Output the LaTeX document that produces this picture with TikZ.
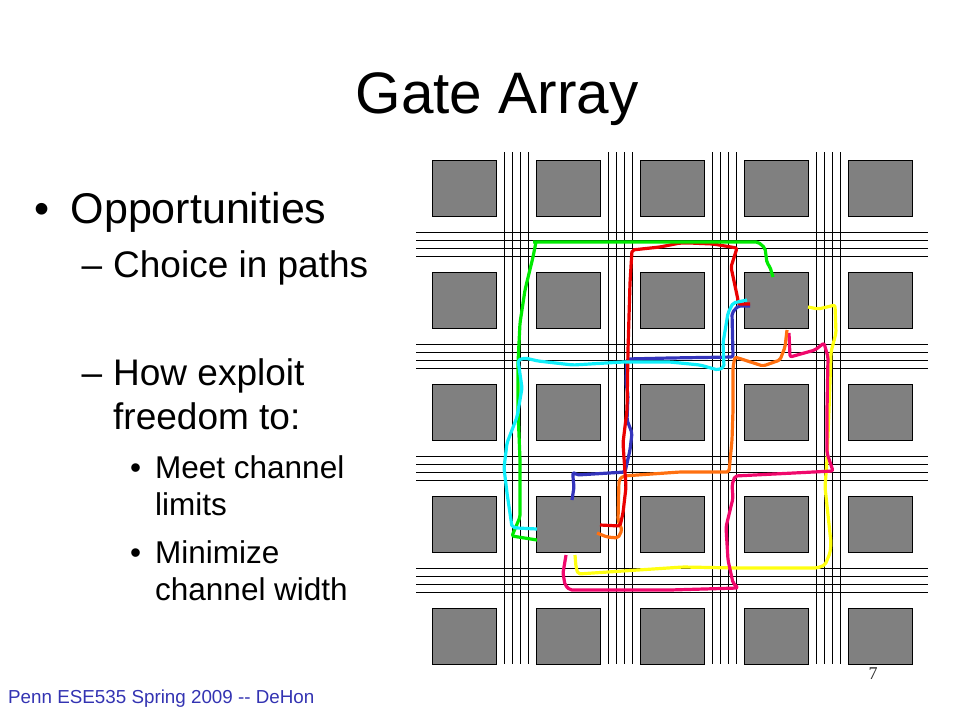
\documentclass[tikz,border=0pt]{standalone}
\usepackage{fontspec}
\setmainfont{Liberation Sans}
\newfontfamily\pagefont{Liberation Serif}
\definecolor{wiregreen}{HTML}{00EA00}
\definecolor{wirered}{HTML}{EA0000}
\definecolor{wirecyan}{HTML}{10EEFA}
\definecolor{wireblue}{HTML}{3434BC}
\definecolor{wireorange}{HTML}{FF7010}
\definecolor{wireyellow}{HTML}{FFFF10}
\definecolor{wirepink}{HTML}{F0086C}
\definecolor{footblue}{HTML}{3333B2}
\tikzset{
	txt/.style={inner sep=0pt, anchor=base west},
	cell/.style={draw, line width=1pt, fill={rgb,255:red,128;green,128;blue,128}, inner sep=0pt, minimum width=64pt, minimum height=56pt},
	track/.style={line width=1pt},
	wire/.style={line width=3.2pt, line join=round, rounded corners=2pt}
}
\begin{document}
\begin{tikzpicture}[x=1pt, y=-1pt]
	\useasboundingbox (0,0) rectangle (960,720);
	\node (title) [inner sep=0pt, anchor=base] at (497,113) {\fontsize{58.5}{60}\selectfont Gate Array};
	\node (b1) [txt] at (34,223) {\fontsize{43}{46}\selectfont •};
	\node (t1) [txt] at (70.5,223) {\fontsize{43}{46}\selectfont Opportunities};
	\node (d1) [txt] at (81.5,277.5) {\fontsize{37}{40}\selectfont –};
	\node (t2) [txt] at (113,277.5) {\fontsize{37}{40}\selectfont Choice in paths};
	\node (d2) [txt] at (81.5,385.5) {\fontsize{37}{40}\selectfont –};
	\node (t3) [txt] at (113,385.5) {\fontsize{37}{40}\selectfont How exploit};
	\node (t4) [txt] at (113,429.5) {\fontsize{37}{40}\selectfont freedom to:};
	\node (b2) [txt] at (130,478) {\fontsize{31.5}{34}\selectfont •};
	\node (t5) [txt] at (155,478) {\fontsize{31.5}{34}\selectfont Meet channel};
	\node (t6) [txt] at (155,515.5) {\fontsize{31.5}{34}\selectfont limits};
	\node (b3) [txt] at (130,563) {\fontsize{31.5}{34}\selectfont •};
	\node (t7) [txt] at (155,563) {\fontsize{31.5}{34}\selectfont Minimize};
	\node (t8) [txt] at (155,600.5) {\fontsize{31.5}{34}\selectfont channel width};
	\node (foot) [txt, text=footblue] at (8,703) {\fontsize{18.8}{21}\selectfont Penn ESE535 Spring 2009 {-}{-} DeHon};
	\node (page) [inner sep=0pt, anchor=base, text={rgb,255:red,40;green,40;blue,40}] at (873,679) {\pagefont\fontsize{18}{20}\selectfont 7};

	% routing tracks
	\foreach \i in {0,...,3} {
		\foreach \j in {0,...,3} {
			\draw[track] ({504.5+104*\i+8*\j},152) -- ({504.5+104*\i+8*\j},664);
			\draw[track] (416,{232.5+112*\i+8*\j}) -- (928,{232.5+112*\i+8*\j});
		}
	}
	% logic blocks
	\foreach \i in {0,...,4} {
		\foreach \j in {0,...,4} {
			\node (c\i\j) [cell] at ({464.5+104*\i},{188.5+112*\j}) {};
		}
	}

	\draw[wire, wireyellow] (808,307) -- (818,309) -- (827,307) -- (835,305) -- (836,333) -- (831,352) -- (829,410) -- (827,460) -- (825,487) -- (831,543) -- (830,553) -- (825,565) -- (817,568) -- (737,568) -- (683,567) -- (578,574) -- (576,567) -- (575,555);
	\draw[wire, wirepink] (566,555) -- (563,573) -- (565,585) -- (570,590) -- (670,590) -- (738,588) -- (733,583) -- (728,560) -- (726,527) -- (733,498) -- (732,485) -- (735,476) -- (833,471) -- (831,465) -- (827,453) -- (827,410) -- (828,357) -- (824,343) -- (815,350) -- (790,357) -- (789,333);
	\draw[wire, wireorange] (787,330) -- (785,347) -- (780,360) -- (763,366) -- (735,357) -- (733,367) -- (733,410) -- (732,440) -- (729,472) -- (680,472) -- (623,476) -- (619,480) -- (618,520) -- (622,530) -- (618,538) -- (607,537) -- (597,533);
	\draw[wire, wireblue] (750,306) -- (738,306) -- (732,313) -- (733,357) -- (670,358) -- (627,359) -- (626,383) -- (628,395) -- (627,420) -- (632,433) -- (630,450) -- (625,472) -- (577,475) -- (573,472) -- (573,478) -- (574,487) -- (572,500);
	\draw[wire, wirered] (600,525) -- (620,526) -- (623,513) -- (626,487) -- (623,443) -- (627,410) -- (628,350) -- (630,283) -- (632,250) -- (660,247) -- (680,243) -- (690,243) -- (713,244) -- (737,248) -- (731,267) -- (738,300) -- (738,304) -- (750,304);
	\draw[wire, wiregreen] (533,242) -- (758,242) -- (765,248) -- (767,263) -- (770,267) -- (773,277);
	\draw[wire, wiregreen] (536,242) -- (533,257) -- (525,290) -- (520,323) -- (518,363) -- (518,410) -- (520,460) -- (520,517) -- (512,536) -- (537,540);
	\draw[wire, wirecyan] (537,529) -- (517,528) -- (512,527) -- (507,493) -- (504,468) -- (507,443) -- (517,417) -- (522,388) -- (518,360) -- (525,358) -- (538,361) -- (573,365) -- (623,362) -- (670,362) -- (700,365) -- (718,370) -- (724,367) -- (723,343) -- (728,313) -- (733,303) -- (747,300);
\end{tikzpicture}
\end{document}
